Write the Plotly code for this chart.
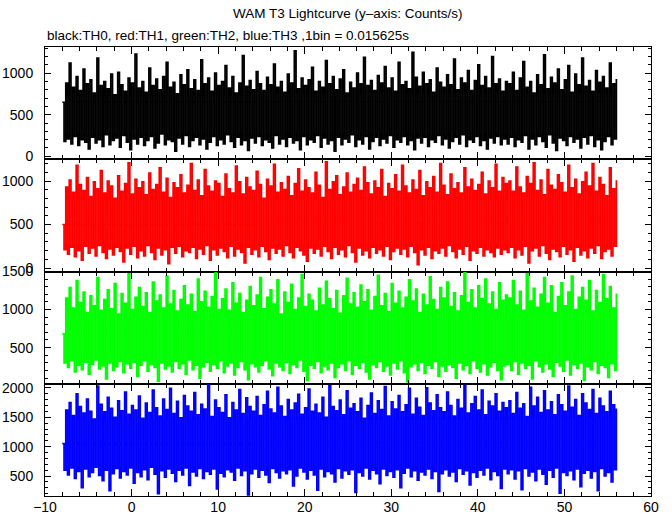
import plotly.graph_objects as go
from plotly.subplots import make_subplots

# Time grid: bins of 0.2 s from -8 s to 56 s (321 samples per channel)
t_start = -8.0
t_step = 0.2

th0 = [650, 180, 880, 210, 1120, 150, 830, 240, 960, 130, 790, 200, 1050, 170, 870, 90,
       920, 230, 760, 160, 1180, 200, 850, 120, 900, 260, 810, 140, 990, 190, 740, 220,
       1010, 110, 860, 250, 780, 170, 940, 80, 880, 210, 1230, 150, 820, 230, 900, 130,
       770, 190, 1060, 240, 850, 100, 930, 160, 800, 270, 960, 140, 1130, 200, 830, 180,
       890, 60, 750, 220, 980, 150, 860, 250, 1040, 120, 810, 190, 920, 230, 790, 140,
       1160, 210, 870, 90, 940, 170, 780, 240, 1000, 130, 850, 200, 900, 150, 1090, 260,
       820, 180, 960, 110, 760, 230, 880, 140, 1210, 190, 840, 70, 910, 220, 800, 160,
       1020, 240, 870, 130, 790, 200, 950, 170, 860, 100, 1110, 250, 830, 150, 900, 210,
       770, 120, 990, 230, 880, 160, 1270, 190, 810, 80, 940, 240, 850, 140, 920, 200,
       1070, 170, 780, 250, 900, 110, 830, 220, 1150, 150, 870, 190, 960, 60, 800, 230,
       930, 140, 1040, 210, 760, 170, 890, 260, 820, 120, 1000, 200, 870, 150, 1190, 240,
       850, 90, 910, 180, 790, 230, 970, 130, 880, 210, 1080, 160, 820, 250, 940, 110,
       780, 200, 1130, 170, 860, 240, 900, 140, 810, 190, 1250, 80, 950, 220, 840, 160,
       1010, 230, 870, 120, 920, 200, 770, 170, 1060, 250, 890, 140, 830, 210, 980, 100,
       860, 180, 1170, 230, 800, 150, 940, 260, 880, 120, 1030, 200, 790, 170, 910, 240,
       1100, 130, 850, 190, 960, 90, 820, 220, 1200, 160, 870, 240, 930, 140, 780, 210,
       900, 150, 870, 230, 1010, 120, 790, 200, 940, 170, 1140, 250, 830, 90, 900, 210,
       760, 140, 980, 240, 860, 180, 1220, 110, 810, 260, 950, 160, 880, 70, 1050, 220,
       800, 190, 920, 130, 1090, 240, 770, 170, 990, 210, 860, 100, 1180, 230, 840, 150,
       910, 250, 780, 120, 1030, 200, 890, 80, 960, 180, 820, 240, 1120, 140, 870, 210,
       930]

th1 = [500, 210, 930, 160, 1010, 240, 870, 130, 1180, 200, 960, 90, 890, 250, 1040, 170,
       820, 230, 990, 140, 910, 260, 1120, 180, 860, 110, 1000, 220, 940, 150, 800, 240,
       1060, 190, 880, 70, 970, 230, 1210, 160, 850, 250, 1020, 120, 920, 200, 990, 140,
       840, 260, 1090, 180, 900, 100, 960, 230, 1150, 150, 870, 210, 1030, 50, 810, 240,
       980, 170, 920, 250, 1070, 130, 860, 200, 950, 180, 1200, 240, 890, 110, 1010, 220,
       830, 160, 1130, 260, 940, 90, 880, 210, 1000, 150, 970, 230, 820, 190, 1080, 120,
       910, 250, 860, 140, 1170, 220, 990, 180, 850, 60, 1040, 240, 930, 160, 890, 210,
       1110, 130, 960, 250, 800, 190, 1020, 100, 940, 230, 1190, 170, 870, 220, 980, 140,
       900, 260, 1050, 180, 830, 120, 970, 240, 1140, 200, 880, 150, 1010, 80, 920, 230,
       860, 170, 1100, 220, 950, 140, 810, 250, 1220, 190, 900, 110, 990, 240, 1060, 160,
       840, 210, 930, 130, 1090, 260, 870, 180, 960, 70, 1030, 230, 890, 150, 1160, 200,
       980, 120, 850, 240, 1000, 170, 920, 210, 1130, 140, 820, 250, 970, 100, 910, 190,
       1070, 230, 880, 160, 1180, 220, 940, 130, 860, 250, 1010, 180, 900, 40, 1120, 210,
       830, 150, 990, 240, 920, 110, 1050, 200, 870, 170, 1200, 230, 950, 140, 840, 260,
       1080, 190, 910, 120, 980, 220, 860, 160, 1150, 250, 930, 90, 1020, 200, 890, 170,
       960, 240, 1100, 140, 850, 210, 1000, 180, 920, 130, 1190, 230, 880, 160, 1040, 210,
       970, 180, 1000, 240, 880, 120, 1160, 210, 930, 150, 860, 250, 1050, 60, 970, 200,
       1210, 230, 890, 140, 1010, 260, 840, 170, 1130, 100, 950, 220, 900, 190, 1070, 130,
       980, 250, 870, 160, 1180, 210, 920, 80, 1020, 240, 850, 150, 990, 200, 1100, 120,
       940, 230, 1200, 170, 880, 260, 1040, 110, 960, 190, 830, 220, 1150, 140, 910, 250,
       1010]

th2 = [680, 300, 1150, 240, 1290, 330, 1020, 180, 1380, 270, 1090, 210, 1230, 310, 960, 150,
       1180, 280, 1050, 340, 1420, 220, 990, 260, 1130, 90, 1260, 300, 1010, 200, 1340, 250,
       940, 320, 1210, 170, 1080, 290, 1470, 230, 1000, 310, 1160, 120, 1290, 270, 1040, 330,
       1220, 190, 960, 280, 1360, 240, 1110, 60, 1190, 300, 1020, 220, 1440, 260, 1070, 180,
       1250, 320, 980, 230, 1130, 290, 1310, 150, 1060, 340, 1200, 210, 970, 270, 1400, 100,
       1100, 250, 1240, 310, 1030, 190, 1170, 280, 1480, 230, 1000, 330, 1140, 170, 1270, 260,
       990, 300, 1350, 140, 1080, 240, 1210, 320, 960, 210, 1120, 80, 1300, 290, 1050, 250,
       1190, 180, 1420, 270, 1010, 330, 1160, 220, 1260, 130, 1070, 300, 1390, 250, 940, 200,
       1230, 310, 1090, 160, 1330, 280, 1000, 240, 1150, 340, 1460, 190, 1040, 70, 1200, 270,
       1120, 230, 980, 320, 1280, 170, 1060, 260, 1370, 210, 1140, 300, 1010, 110, 1250, 240,
       950, 290, 1180, 200, 1410, 330, 1070, 150, 1220, 270, 1030, 230, 1320, 310, 1100, 180,
       1260, 90, 990, 280, 1170, 240, 1450, 320, 1050, 190, 1210, 260, 970, 140, 1340, 300,
       1080, 220, 1240, 330, 1020, 170, 1160, 50, 1390, 250, 1110, 290, 1270, 200, 960, 310,
       1200, 160, 1060, 270, 1430, 230, 1130, 320, 1000, 120, 1290, 260, 1150, 190, 1360, 280,
       1040, 240, 1220, 100, 980, 300, 1180, 210, 1490, 270, 1090, 160, 1260, 330, 1020, 230,
       1310, 180, 1140, 290, 1400, 140, 1070, 250, 1230, 310, 1000, 200, 1350, 80, 1120, 260,
       1190, 280, 1150, 200, 1380, 320, 1060, 150, 1240, 300, 990, 230, 1470, 270, 1110, 90,
       1280, 330, 1030, 250, 1200, 180, 1420, 290, 1080, 220, 1310, 120, 960, 310, 1170, 260,
       1350, 190, 1050, 340, 1230, 140, 1440, 280, 1000, 230, 1160, 300, 1290, 70, 1120, 250,
       1380, 210, 980, 320, 1250, 160, 1090, 270, 1460, 240, 1140, 110, 1300, 290, 1020, 200,
       1210]

th3 = [1050, 600, 1620, 520, 1750, 640, 1530, 460, 1900, 580, 1680, 300, 1570, 620, 1810, 490,
       1600, 560, 1470, 650, 2030, 510, 1720, 420, 1590, 600, 1840, 250, 1650, 540, 1500, 630,
       1780, 470, 1610, 580, 1930, 520, 1550, 640, 1700, 380, 1620, 560, 1860, 490, 1480, 610,
       1740, 440, 1580, 650, 1960, 530, 1660, 200, 1520, 590, 1810, 480, 1630, 620, 1990, 550,
       1560, 410, 1770, 600, 1490, 520, 1870, 640, 1690, 340, 1600, 570, 1920, 500, 1540, 630,
       1720, 460, 1640, 580, 2050, 530, 1510, 620, 1790, 280, 1660, 550, 1580, 490, 1880, 610,
       1490, 570, 1750, 430, 1620, 640, 1970, 510, 1560, 590, 1830, 180, 1680, 540, 1600, 620,
       1850, 480, 1530, 600, 1710, 520, 1940, 390, 1640, 630, 1570, 560, 2010, 470, 1690, 590,
       1510, 540, 1800, 610, 1620, 330, 1740, 500, 1890, 640, 1550, 570, 1660, 450, 1980, 600,
       1600, 520, 1720, 260, 1570, 620, 1840, 490, 1500, 580, 2040, 540, 1680, 400, 1610, 630,
       1790, 470, 1540, 590, 1950, 530, 1650, 610, 1730, 220, 1590, 560, 1820, 500, 1480, 640,
       1700, 450, 1910, 600, 1560, 540, 1780, 370, 1630, 620, 2020, 510, 1520, 580, 1760, 480,
       1640, 610, 1870, 300, 1590, 550, 1710, 640, 1990, 490, 1550, 590, 1820, 430, 1670, 570,
       1530, 520, 2000, 620, 1740, 460, 1610, 580, 1880, 240, 1660, 540, 1590, 610, 1930, 500,
       1700, 570, 1520, 410, 1800, 630, 1650, 530, 2040, 590, 1570, 350, 1730, 560, 1850, 480,
       1620, 600, 1960, 520, 1540, 640, 1770, 440, 1690, 580, 1900, 510, 1600, 290, 1750, 620,
       1660, 540, 1780, 610, 1560, 450, 1920, 590, 1650, 270, 1730, 630, 1510, 500, 2010, 570,
       1690, 420, 1840, 620, 1580, 530, 1950, 360, 1620, 600, 1760, 480, 1540, 640, 1880, 210,
       1710, 560, 1600, 510, 2030, 590, 1670, 440, 1800, 620, 1530, 320, 1900, 550, 1740, 600,
       1630, 470, 1970, 580, 1560, 250, 1820, 630, 1690, 500, 1590, 560, 1940, 400, 1710, 610,
       1650]

channels = ["TH0", "TH1", "TH2", "TH3"]
series = [th0, th1, th2, th3]
colors = ["#000000", "#ff0000", "#00ff00", "#0000ff"]
y_ranges = [[-36, 1315], [-40, 1250], [25, 1500], [160, 2070]]

title_text = "WAM T3 Lightcurve (y\u2013axis: Counts/s)"
subtitle_text = "black:TH0, red:TH1, green:TH2, blue:TH3 ,1bin = 0.015625s"

FONT = "Liberation Sans, Arial, Helvetica, sans-serif"

fig = make_subplots(rows=4, cols=1, shared_xaxes=True, vertical_spacing=0)

for i, (name, vals, col) in enumerate(zip(channels, series, colors)):
    times = [t_start + t_step * k for k in range(len(vals))]
    fig.add_trace(
        go.Scatter(x=times, y=vals, mode="lines", name=name,
                   line=dict(color=col, width=1.7, shape="hv"),
                   hoverinfo="skip"),
        row=i + 1, col=1,
    )

axis_common = dict(
    showgrid=False, zeroline=False, showline=True, linecolor="black",
    linewidth=1, mirror="ticks", ticks="inside", tickcolor="black",
    tickwidth=1, automargin=False,
    tickfont=dict(family=FONT, size=14, color="black"),
)

for i in range(4):
    fig.update_yaxes(
        range=y_ranges[i], dtick=500, tick0=0, ticklen=6,
        minor=dict(ticks="inside", dtick=100, tick0=0, ticklen=3,
                   tickcolor="black", showgrid=False),
        ticklabelstandoff=8,
        **axis_common, row=i + 1, col=1,
    )
    fig.update_xaxes(
        range=[-10, 60], dtick=10, tick0=0, ticklen=7,
        minor=dict(ticks="inside", dtick=2, tick0=0, ticklen=4,
                   tickcolor="black", showgrid=False),
        ticklabelstandoff=-2,
        **axis_common, row=i + 1, col=1,
    )

fig.update_layout(
    width=672, height=515,
    margin=dict(l=45, r=21, t=47, b=19, autoexpand=False),
    paper_bgcolor="white", plot_bgcolor="white",
    showlegend=False,
    font=dict(family=FONT, size=14, color="black"),
    annotations=[
        dict(text=title_text, xref="paper", yref="paper", x=0.5, y=1.0735,
             xanchor="center", yanchor="middle", showarrow=False,
             font=dict(family=FONT, size=13.5, color="black")),
        dict(text=subtitle_text, xref="paper", yref="paper", x=0.0, y=1.0267,
             xanchor="left", yanchor="middle", showarrow=False,
             font=dict(family=FONT, size=13.5, color="black")),
    ],
)

fig.write_html(
    "out.html",
    config={"displayModeBar": False, "staticPlot": True},
    post_script="document.body.style.margin='0px';document.body.style.overflow='hidden';",
)
